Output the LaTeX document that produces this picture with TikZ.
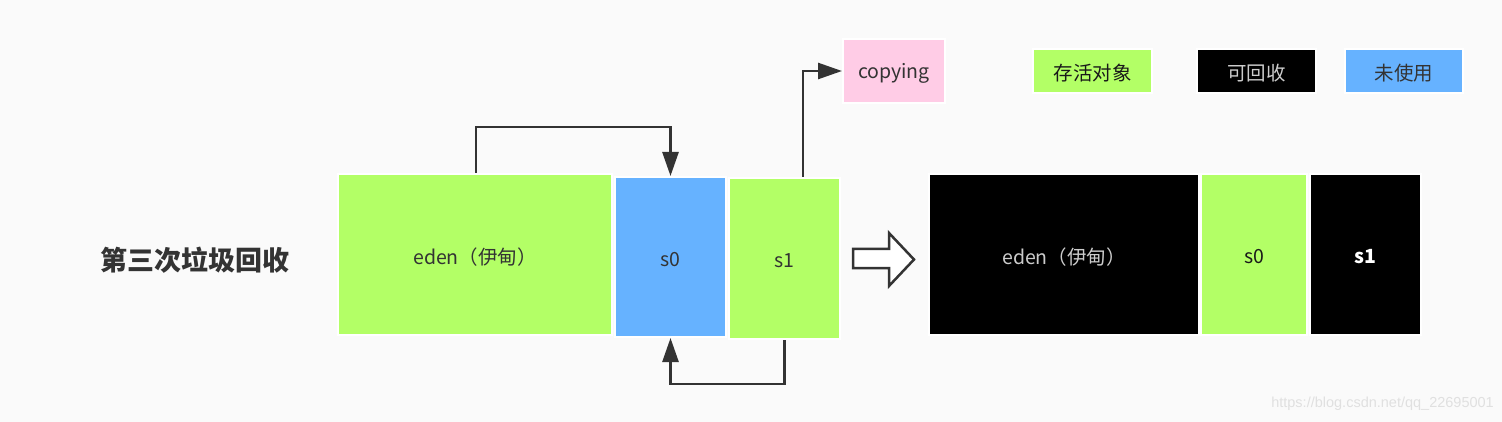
\documentclass[tikz,border=0pt]{standalone}
\usepackage{fontspec}
\setmainfont{Noto Sans CJK SC}
\newfontfamily\wmfont{Liberation Sans}
\usetikzlibrary{arrows.meta}
\definecolor{live}{HTML}{B3FF66}
\definecolor{unused}{HTML}{66B2FF}
\definecolor{copyc}{HTML}{FFCCE6}
\definecolor{ink}{HTML}{333333}
\definecolor{bg}{HTML}{FAFAFA}
\newcommand{\lbl}[1]{\raisebox{-2.5pt}[\height][\depth]{#1}}
\tikzset{
  box/.style={draw=white, line width=2pt, inner sep=0pt, font=\fontsize{19.5}{22}\selectfont, text=ink},
  conn/.style={draw=ink, line width=2.6pt, -{Triangle[length=24pt,width=16pt]}},
  legend/.style={box, minimum width=119pt, minimum height=44pt},
}
\begin{document}
\begin{tikzpicture}[x=1pt,y=-1pt]
\fill[bg] (0,0) rectangle (1502,422);
\useasboundingbox (0,0) rectangle (1502,422);

\node[text=ink, font=\fontsize{27}{30}\selectfont\bfseries] (title) at (195,260) {第三次垃圾回收};

\node[box, fill=live, minimum width=274pt, minimum height=161pt] (eden) at (475,254.5) {\lbl{eden（伊甸）}};
\node[box, fill=unused, minimum width=111pt, minimum height=160pt] (s0) at (670.5,257) {\lbl{s0}};
\node[box, fill=live, minimum width=111pt, minimum height=161pt] (s1) at (784.5,258.5) {\lbl{s1}};

\node[box, fill=copyc, minimum width=102pt, minimum height=64pt] (copying) at (894,71) {\lbl{copying}};

\draw[conn] ([xshift=1pt]eden.north) -- ++(0,-46) -| (s0.north);
\draw[conn] ([xshift=18.5pt]s1.north) |- (copying.west);
\draw[conn] (s1.south) -- ++(0,44) -| (s0.south);

\draw[draw=ink, fill=white, line width=2.5pt, line join=miter]
  (853,249) -- (889,249) -- (889,233) -- (914,259.5) -- (889,286) -- (889,268) -- (853,268) -- cycle;

\node[box, fill=black, text=black!20, minimum width=270pt, minimum height=161pt] (eden2) at (1064,254.5) {\lbl{eden（伊甸）}};
\node[box, fill=live, text=black!90, minimum width=106pt, minimum height=161pt] (s02) at (1254,254.5) {\lbl{s0}};
\node[box, fill=black, text=white, minimum width=111pt, minimum height=161pt] (s12) at (1365.5,254.5) {\lbl{\bfseries s1}};

\node[legend, fill=live, text=black!90] (lg1) at (1092.5,71) {\lbl{存活对象}};
\node[legend, fill=black, text=black!20] (lg2) at (1256.5,71) {\lbl{可回收}};
\node[legend, fill=unused, text=ink, minimum width=118pt] (lg3) at (1404,71) {\lbl{未使用}};

\node[anchor=east, inner sep=0pt, text=black!12, font=\wmfont\fontsize{14.5}{16}\selectfont] (wm) at (1494,404) {https://blog.csdn.net/qq\_22695001};
\end{tikzpicture}
\end{document}
